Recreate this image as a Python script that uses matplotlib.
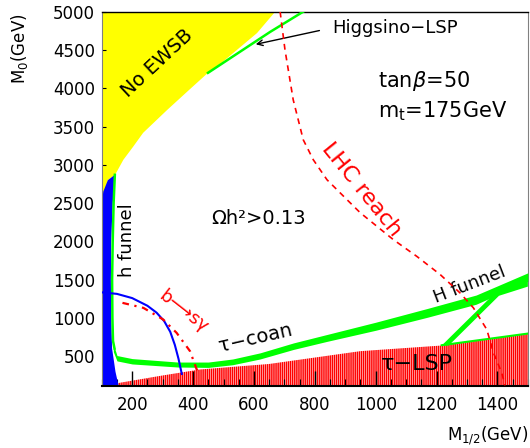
import numpy as np
import matplotlib
matplotlib.use('Agg')
import matplotlib.pyplot as plt

plt.rcParams['hatch.linewidth'] = 1.1

# boundaries (M_1/2, M_0) in GeV
ewsb_x = [100, 670, 610, 478, 449, 393, 315, 236, 203, 171, 144, 120, 100]
ewsb_y = [5000, 5000, 4720, 4280, 4201, 4000, 3717, 3418, 3236, 3066, 2871, 2800, 2480]

lep_x = [100, 105, 120, 143, 136, 131, 130, 131, 134, 145, 155, 100]
lep_y = [2480, 2650, 2800, 2870, 2500, 2000, 1500, 1000, 600, 300, 120, 120]

stau_x = [108, 160, 300, 423, 650, 949, 1217, 1500, 1500, 108]
stau_y = [120, 155, 250, 328, 400, 567, 641, 793, 110, 110]

hfun_x = [143, 139, 136, 134, 135, 137, 142]
hfun_y = [2870, 2500, 2000, 1500, 1000, 700, 600]

coan_x = [138, 150, 200, 350, 450, 530, 620, 730, 840, 1000, 1170, 1330, 1500]
coan_lo = [560, 440, 400, 360, 355, 390, 465, 590, 695, 840, 1010, 1180, 1480]
coan_hi = [660, 510, 470, 425, 425, 465, 545, 675, 785, 945, 1125, 1300, 1590]

arm_x = [1217, 1240, 1405, 1500, 1500, 1385]
arm_y = [641, 641, 1290, 1410, 1540, 1300]

edge_x = [1217, 1500]
edge_y = [645, 797]

higgsino_x = [449, 653, 762]
higgsino_y = [4201, 4735, 5000]

bh_x = [100, 150, 200, 250, 280, 305, 325, 340, 352, 363]
bh_y = [1335, 1315, 1260, 1160, 1070, 960, 820, 650, 470, 270]

bsg_x = [168, 237, 302, 346, 390, 412, 420]
bsg_y = [1198, 1132, 980, 806, 567, 328, 300]

lhc_x = [686, 702, 729, 762, 795, 840, 906, 949, 1058, 1135, 1212, 1277, 1321, 1365, 1387, 1414, 1425]
lhc_y = [5000, 4501, 3849, 3327, 3066, 2805, 2544, 2375, 2023, 1805, 1567, 1328, 1133, 850, 546, 285, 120]

xticks = [200, 400, 600, 800, 1000, 1200, 1400]
yticks = [500, 1000, 1500, 2000, 2500, 3000, 3500, 4000, 4500, 5000]

fig = plt.figure(figsize=(5.3, 4.48), dpi=100)
ax = fig.add_axes([0.192, 0.138, 0.804, 0.836])

ax.fill(ewsb_x, ewsb_y, color='#ffff00', lw=0, zorder=1)
ax.fill(stau_x, stau_y, facecolor='white', edgecolor='#ff0000', hatch='||||||||', lw=0, zorder=1)
ax.fill(lep_x, lep_y, color='#0000ff', lw=0, zorder=2)

green = '#00ff00'
ax.plot(hfun_x, hfun_y, color=green, lw=1.8, zorder=3)
ax.fill_between(coan_x, coan_lo, coan_hi, color=green, lw=0, zorder=3)
ax.fill(arm_x, arm_y, color=green, lw=0, zorder=3)
ax.plot(edge_x, edge_y, color=green, lw=1.5, zorder=3)
ax.plot(higgsino_x, higgsino_y, color=green, lw=1.8, zorder=3)

ax.plot(bh_x, bh_y, color='#0000ff', lw=1.5, zorder=4)
ax.plot(bsg_x, bsg_y, color='#ff0000', lw=1.6, dashes=(3, 2.5, 1, 2.5), zorder=4)
ax.plot(lhc_x, lhc_y, color='#ff0000', lw=1.2, dashes=(3.5, 3), zorder=4)

ax.set_xlim(100, 1500)
ax.set_ylim(110, 5000)
ax.set_xticks(xticks)
ax.set_yticks(yticks)
ax.set_xticks(np.arange(100, 1501, 50), minor=True)
ax.tick_params(axis='x', which='major', direction='in', length=11, width=1, labelsize=12, pad=7)
ax.tick_params(axis='x', which='minor', direction='in', length=5, width=0.8)
ax.tick_params(axis='y', which='major', direction='in', length=3, width=0.8, labelsize=12, pad=5)

ax.spines['bottom'].set_linewidth(1.5)
ax.spines['top'].set_linewidth(1.0)
ax.spines['left'].set_color('#808080')
ax.spines['right'].set_color('#808080')

ax.set_ylabel('M$_0$(GeV)', fontsize=12)
ax.yaxis.set_label_coords(-0.168, 0.90)
ax.text(1.0, -0.131, 'M$_{1/2}$(GeV)', transform=ax.transAxes, ha='right', va='center', fontsize=12)

ax.text(282, 4331, 'No EWSB', rotation=43, ha='center', va='center', fontsize=14)
ax.text(856, 4787, 'Higgsino\u2212LSP', ha='left', va='center', fontsize=13)
ax.annotate('', xy=(597, 4566), xytext=(824, 4761),
            arrowprops=dict(arrowstyle='->', color='black', lw=1))
ax.text(1008, 4096, r'tan$\beta$=50', ha='left', va='center', fontsize=15)
ax.text(1008, 3704, r'm$_{\rm t}$=175GeV', ha='left', va='center', fontsize=15)
ax.text(955, 2675, 'LHC reach', rotation=-51, ha='center', va='center', fontsize=16, color='#ff0000')
ax.text(614, 2295, '\u03a9h\u00b2>0.13', ha='center', va='center', fontsize=14)
ax.text(183, 2020, 'h funnel', rotation=90, ha='center', va='center', fontsize=13)
ax.text(368, 1083, 'b\u27f6s\u03b3', rotation=-38, ha='center', va='center', fontsize=13, color='#ff0000')
ax.text(604, 743, '\u03c4\u2212coan', rotation=13, ha='center', va='center', fontsize=14)
ax.text(1307, 1436, 'H funnel', rotation=21, ha='center', va='center', fontsize=13)
ax.text(1136, 406, '\u03c4\u2212LSP', ha='center', va='center', fontsize=16)

fig.savefig('out.png', dpi=100)
